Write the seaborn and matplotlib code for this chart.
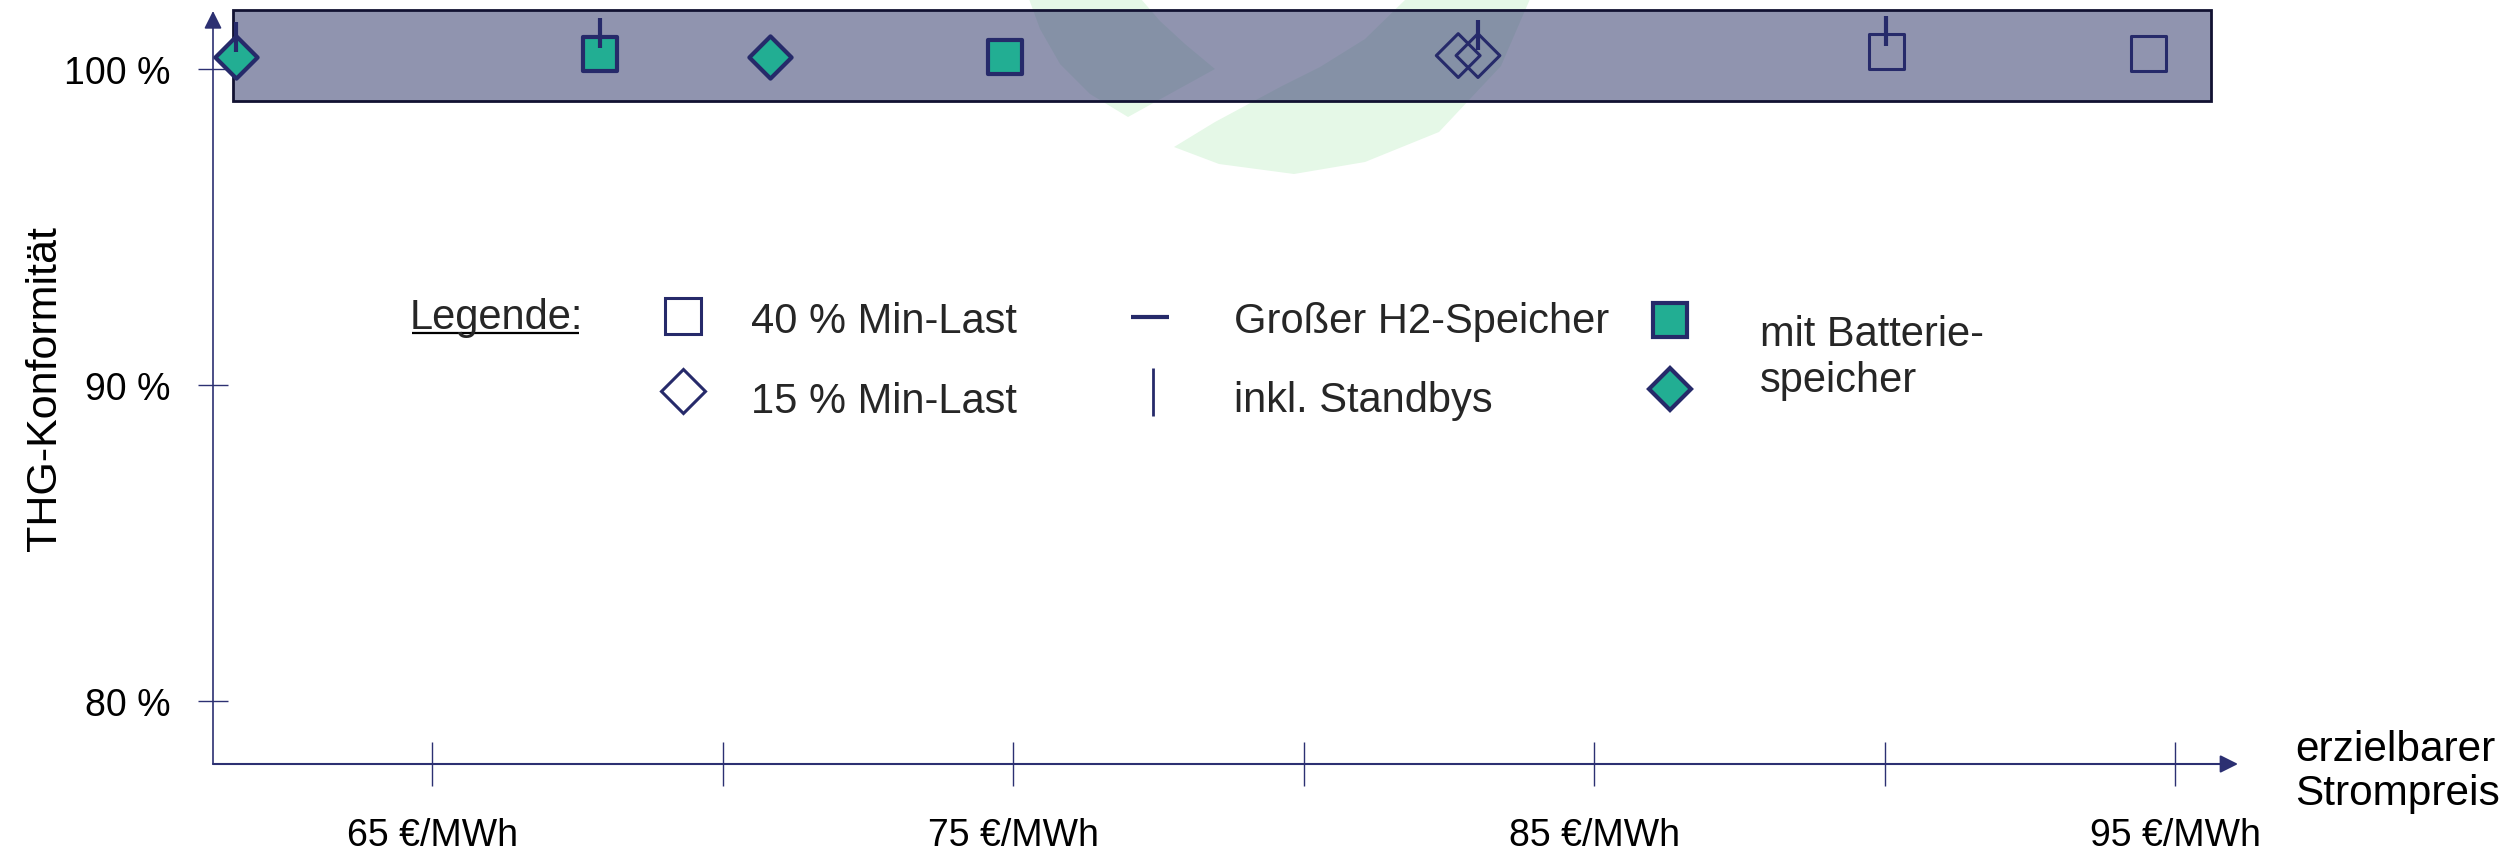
import matplotlib
matplotlib.use("Agg")
import numpy as np
import pandas as pd
import seaborn as sns
import matplotlib.pyplot as plt
from matplotlib.patches import Rectangle, Polygon
from matplotlib import transforms
from matplotlib.lines import Line2D

# ---------------- data ----------------
prices = [61.63, 67.89, 70.82, 74.86, 82.66, 83.00, 90.03, 94.54]   # €/MWh
thg = [100.35, 100.47, 100.38, 100.38, 100.41, 100.41, 100.54, 100.47]  # %
min_load = ["15 %", "40 %", "15 %", "40 %", "15 %", "15 %", "40 %", "40 %"]
battery = [True, True, True, True, False, False, False, False]
standby = [True, True, False, False, False, True, True, False]

band_price = [61.58, 95.62]      # shaded band (x extent)
band_thg = [98.97, 101.85]       # shaded band (y extent)

x_ticks = [65, 70, 75, 80, 85, 90, 95]
x_ticklabels = ["65 €/MWh", "", "75 €/MWh", "", "85 €/MWh", "", "95 €/MWh"]
y_ticks = [80, 90, 100]
y_ticklabels = ["80 %", "90 %", "100 %"]
x_title = "erzielbarer\nStrompreis"
y_title = "THG-Konformität"

legend_title = "Legende:"
legend_labels = ["40 % Min-Last", "15 % Min-Last", "Großer H2-Speicher",
                 "inkl. Standbys", "mit Batterie-", "speicher"]

df = pd.DataFrame({"price": prices, "thg": thg, "load": min_load,
                   "battery": battery, "standby": standby})

# ---------------- style ----------------
NAVY = "#262A6A"
AXIS = "#2C3072"
TEAL = "#22AE93"
BAND_FACE = (70 / 255, 77 / 255, 123 / 255, 0.6)
BAND_EDGE = "#121232"
WATERMARK = "#E5F8E7"

sns.set_theme(style="white")
plt.rcParams["font.family"] = ["Liberation Sans", "DejaVu Sans"]

W, H = 2519, 853
fig = plt.figure(figsize=(W / 100, H / 100), dpi=100)

# background / overlay in pixel coordinates (watermark, legend, titles)
bg = fig.add_axes([0, 0, 1, 1], zorder=0)
bg.set_xlim(0, W)
bg.set_ylim(H, 0)
bg.axis("off")

wm_a = [(1029, 0), (1040, 30), (1060, 65), (1090, 95), (1128, 118),
        (1215, 70), (1185, 45), (1160, 22), (1141, 0)]
wm_b = [(1406, 0), (1365, 40), (1320, 68), (1282, 87), (1215, 123), (1174, 148),
        (1219, 165), (1294, 175), (1365, 163), (1439, 133), (1501, 67), (1530, 0)]
for poly in (wm_a, wm_b):
    bg.add_patch(Polygon(poly, closed=True, facecolor=WATERMARK, edgecolor="none"))

# main axes
ax = fig.add_axes([213 / W, 1 - 765 / H, (2238 - 213) / W, (765 - 12) / H], zorder=1)
ax.set_facecolor("none")
ax.set_xlim(61.23, 96.08)
ax.set_ylim(78.0, 101.82)
for s in ax.spines.values():
    s.set_visible(False)

# axis arrows
arrow = dict(arrowstyle="-|>,head_length=1.0,head_width=0.5", mutation_scale=10.8,
             color=AXIS, lw=1.5, shrinkA=0, shrinkB=0)
ax.annotate("", xy=(1, 0), xytext=(0, 0), xycoords="axes fraction",
            textcoords="axes fraction", arrowprops=arrow, annotation_clip=False)
ax.annotate("", xy=(0, 1), xytext=(0, 0), xycoords="axes fraction",
            textcoords="axes fraction", arrowprops=dict(arrow, lw=1.2),
            annotation_clip=False)

ax.set_xticks(x_ticks)
ax.set_xticklabels(x_ticklabels, fontsize=27)
ax.set_yticks(y_ticks)
ax.set_yticklabels(y_ticklabels, fontsize=27)
ax.tick_params(axis="x", direction="inout", length=31.7, width=1.0, color=AXIS,
               pad=22, labelcolor="black", bottom=True)
ax.tick_params(axis="y", direction="inout", length=21.6, width=1.0, color=AXIS,
               pad=20, labelcolor="black", left=True)
ax.set_xlabel("")
ax.set_ylabel(y_title, fontsize=31, va="center", color="black")
ax.yaxis.set_label_coords(-0.083, 0.505)

# shaded band
ax.add_patch(Rectangle((band_price[0], band_thg[0]), band_price[1] - band_price[0],
                       band_thg[1] - band_thg[0], facecolor=BAND_FACE,
                       edgecolor=BAND_EDGE, lw=2.0, zorder=2, clip_on=False))

# points
for (load, batt), sub in df.groupby(["load", "battery"]):
    marker = "s" if load == "40 %" else "D"
    ms = (24.5 if batt else 25.5) if marker == "s" else (21.5 if batt else 22.3)
    sns.scatterplot(data=sub, x="price", y="thg", ax=ax, marker=marker, s=ms ** 2,
                    facecolor=TEAL if batt else "none", edgecolor=NAVY,
                    linewidth=3.0 if batt else 2.2, zorder=3, legend=False,
                    clip_on=False)

# stand-by indicator: short vertical stroke above the marker
up = transforms.offset_copy(ax.transData, fig=fig, x=0, y=14.8, units="points")
sb = df[df["standby"]]
ax.plot(sb["price"], sb["thg"], ls="none", marker="|", ms=21, mew=3.0,
        color=NAVY, transform=up, zorder=4, clip_on=False)
ax.set_xlabel("")
ax.set_ylabel(y_title, fontsize=31, va="center", color="black")

# x axis title
bg.text(2295, 772, x_title, fontsize=30.5, ha="left", va="center",
        linespacing=1.15, color="black")

# ---------------- legend ----------------
FS = 30
t_leg = bg.text(410, 329, legend_title, fontsize=FS, ha="left", va="baseline")
bg.plot([683], [317], marker="s", ms=25.5, mfc="none", mec=NAVY, mew=2.2, ls="none")
bg.plot([683], [392], marker="D", ms=22.3, mfc="none", mec=NAVY, mew=2.2, ls="none")
bg.plot([1150], [318], marker="_", ms=27, mew=3.0, color=NAVY, ls="none")
bg.plot([1153], [393], marker="|", ms=34, mew=2.0, color=NAVY, ls="none")
bg.plot([1670], [321], marker="s", ms=24.5, mfc=TEAL, mec=NAVY, mew=3.0, ls="none")
bg.plot([1670], [390], marker="D", ms=21.5, mfc=TEAL, mec=NAVY, mew=3.0, ls="none")

bg.text(751, 333, legend_labels[0], fontsize=FS, ha="left", va="baseline")
bg.text(751, 413, legend_labels[1], fontsize=FS, ha="left", va="baseline")
bg.text(1234, 333, legend_labels[2], fontsize=FS, ha="left", va="baseline")
bg.text(1234, 412, legend_labels[3], fontsize=FS, ha="left", va="baseline")
bg.text(1760, 346, legend_labels[4], fontsize=FS, ha="left", va="baseline")
bg.text(1760, 392, legend_labels[5], fontsize=FS, ha="left", va="baseline")

# underline for "Legende:"
fig.canvas.draw()
bb = t_leg.get_window_extent()
inv = bg.transData.inverted()
(x0, _), (x1, _) = inv.transform([(bb.x0, bb.y0), (bb.x1, bb.y0)])
bg.plot([x0 + 2, x1 - 4], [334, 334], color="black", lw=1.6, solid_capstyle="butt")

fig.savefig("out.png", dpi=100)
